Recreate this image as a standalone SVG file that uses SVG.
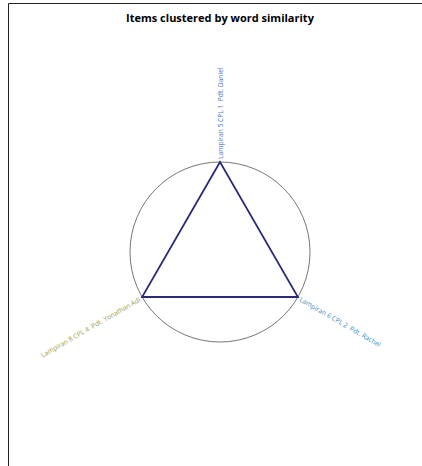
<svg xmlns="http://www.w3.org/2000/svg" width="422" height="466" viewBox="0 0 422 466">
<style>
.title{font-family:"Open Sans","Liberation Sans",sans-serif;font-weight:bold;font-size:11px;fill:#000}
.lbl{font-family:"Open Sans","Liberation Sans",sans-serif;font-size:6.7px;white-space:pre}
.edge{stroke:#2a2a78;stroke-width:1.8;fill:none}
</style>
<rect x="0" y="0" width="422" height="466" fill="#fff"/>
<path d="M8.5,466 V3.5 H422" fill="none" stroke="#222" stroke-width="1"/>
<text class="title" x="220" y="22" text-anchor="middle">Items clustered by word similarity</text>
<circle cx="220" cy="252" r="90" fill="none" stroke="#777" stroke-width="1"/>
<g id="connectors">
<path class="edge" d="M220,162 L142.1,297 L297.9,297 Z"/>
</g>
<g id="node1">
<text class="lbl" xml:space="preserve" fill="#4a78c8" transform="translate(223,159) rotate(-90)">Lampiran 5 CPL 1  Pdt. Daniel</text>
</g>
<g id="node2">
<text class="lbl" xml:space="preserve" fill="#3a8cc4" transform="translate(299,301) rotate(30)">Lampiran 6 CPL 2  Pdt. Rachel</text>
</g>
<g id="node3">
<text class="lbl" xml:space="preserve" fill="#9a9a3c" text-anchor="end" transform="translate(141,301) rotate(-30)">Lampiran 8 CPL 4  Pdt. Yonathan Adi</text>
</g>
</svg>
